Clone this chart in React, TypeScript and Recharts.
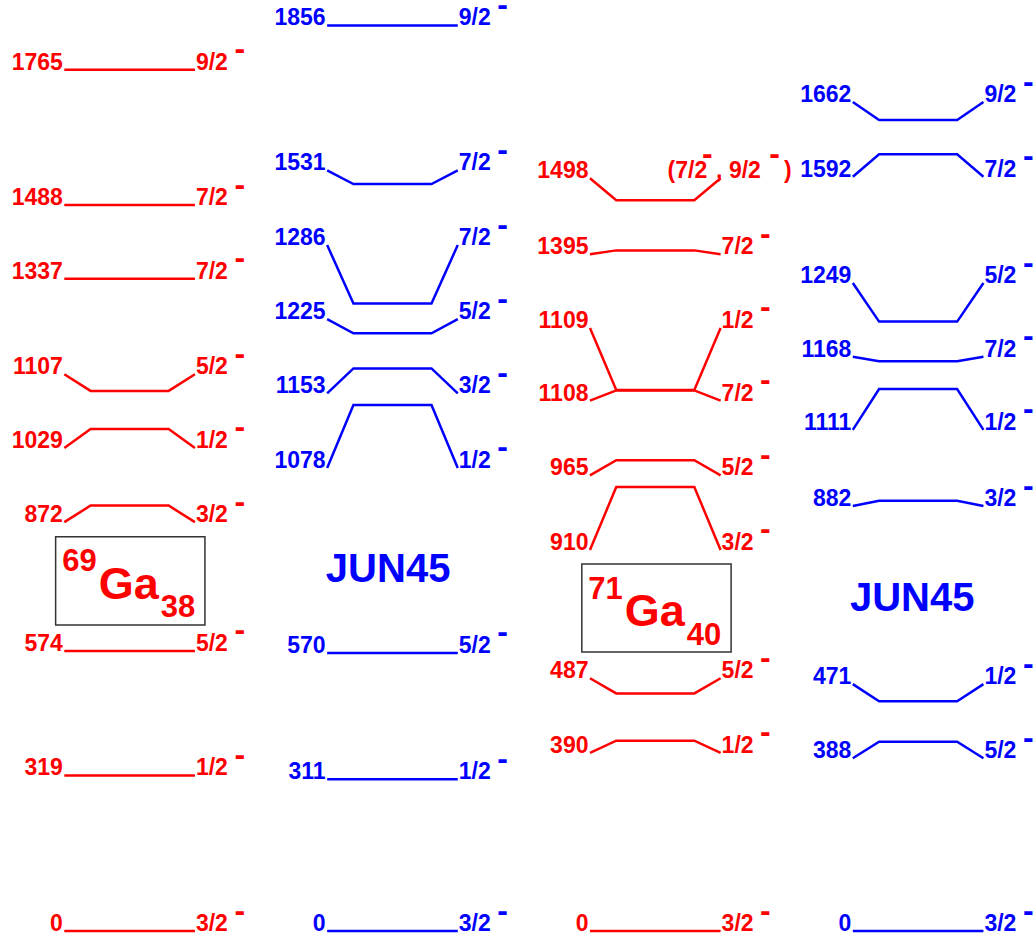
import { LineChart, Line, XAxis, YAxis, ReferenceArea, ReferenceDot } from "recharts";

const FONT = '"Liberation Sans", Arial, Helvetica, sans-serif';
const RED = "#ff0000";
const BLUE = "#0000ff";

// 69Ga, experiment (keV). labelEnergies = where the level's end ticks sit so the labels don't collide
const ga69Energies = [0, 319, 574, 872, 1029, 1107, 1337, 1488, 1765];
const ga69LabelEnergies = [0, 319, 574, 838, 990, 1141, 1337, 1488, 1765];
const ga69Spins = ["3/2", "1/2", "5/2", "3/2", "1/2", "5/2", "7/2", "7/2", "9/2"];

// 69Ga, JUN45 shell model
const jun69Energies = [0, 311, 570, 1078, 1153, 1225, 1286, 1531, 1856];
const jun69LabelEnergies = [0, 311, 570, 949, 1102, 1254, 1406, 1559, 1856];
const jun69Spins = ["3/2", "1/2", "5/2", "1/2", "3/2", "5/2", "7/2", "7/2", "9/2"];

// 71Ga, experiment
const ga71Energies = [0, 390, 487, 910, 965, 1108, 1109, 1395, 1498];
const ga71LabelEnergies = [0, 365, 518, 781, 934, 1087, 1236, 1387, 1543];
const ga71Spins = ["3/2", "1/2", "5/2", "3/2", "5/2", "7/2", "1/2", "7/2", "(7/2,9/2)"];

// 71Ga, JUN45 shell model
const jun71Energies = [0, 388, 471, 882, 1111, 1168, 1249, 1592, 1662];
const jun71LabelEnergies = [0, 354, 506, 871, 1027, 1177, 1328, 1546, 1699];
const jun71Spins = ["3/2", "5/2", "1/2", "3/2", "1/2", "7/2", "5/2", "7/2", "9/2"];

const columns = [
  { energies: ga69Energies, labelEnergies: ga69LabelEnergies, spins: ga69Spins, color: RED },
  { energies: jun69Energies, labelEnergies: jun69LabelEnergies, spins: jun69Spins, color: BLUE },
  { energies: ga71Energies, labelEnergies: ga71LabelEnergies, spins: ga71Spins, color: RED },
  { energies: jun71Energies, labelEnergies: jun71LabelEnergies, spins: jun71Spins, color: BLUE },
];

// x offsets of a level inside its column: left end, kink, kink, right end
const LEVEL_SHAPE = [0, 0.1, 0.397, 0.497];

const buildLevel = (col: number, energy: number, labelEnergy: number) =>
  LEVEL_SHAPE.map((f, i) => ({
    x: col + f,
    e: i === 0 || i === LEVEL_SHAPE.length - 1 ? labelEnergy : energy,
  }));

const textStyle = { fontFamily: FONT, fontWeight: 700 as const };

const SpinLabel = ({ x, y, spin, color }: { x: number; y: number; spin: string; color: string }) => {
  if (spin.startsWith("(")) {
    // "(7/2-, 9/2-)" with both parities raised
    const [a, b] = spin.slice(1, -1).split(",");
    return (
      <text fontSize={23} fill={color} style={textStyle}>
        <tspan x={x - 53} y={y}>({a}</tspan>
        <tspan x={x - 18.5} y={y - 14} fontSize={32}>-</tspan>
        <tspan x={x - 4.7} y={y}>,</tspan>
        <tspan x={x + 8.3} y={y}>{b}</tspan>
        <tspan x={x + 48.6} y={y - 14} fontSize={32}>-</tspan>
        <tspan x={x + 63.5} y={y}>)</tspan>
      </text>
    );
  }
  return (
    <text fontSize={23} fill={color} style={textStyle}>
      <tspan x={x + 1} y={y}>{spin}</tspan>
      <tspan x={x + 39.5} y={y - 10.5} fontSize={32}>-</tspan>
    </text>
  );
};

const levelDot = (energy: number, spin: string, color: string) => (props: any) => {
  const { cx, cy, index } = props;
  const key = `${energy}-${spin}-${index}`;
  if (index === 0) {
    return (
      <text key={key} x={cx - 1.5} y={cy} textAnchor="end" fontSize={23} fill={color} style={textStyle}>
        {energy}
      </text>
    );
  }
  if (index === LEVEL_SHAPE.length - 1) {
    return <SpinLabel key={key} x={cx} y={cy} spin={spin} color={color} />;
  }
  return <g key={key} />;
};

const NucleusLabel = (props: any) => {
  const { viewBox, mass, neutrons } = props;
  const { x, y } = viewBox;
  return (
    <g>
      <text x={x + 6.5} y={y + 34.5} fontSize={31} fill={RED} style={textStyle}>
        {mass}
      </text>
      <text x={x + 43} y={y + 62.3} fontSize={45} fill={RED} style={textStyle}>
        Ga
      </text>
      <text x={x + 105} y={y + 80.5} fontSize={31} fill={RED} style={textStyle}>
        {neutrons}
      </text>
    </g>
  );
};

const ModelLabel = (props: any) => {
  const { viewBox } = props;
  return (
    <text x={viewBox.x} y={viewBox.y} textAnchor="middle" fontSize={40} fill={BLUE} style={textStyle}>
      JUN45
    </text>
  );
};

export default function App() {
  return (
    <div style={{ position: "absolute", left: 0, top: 0, background: "#fff" }}>
      <LineChart width={1036} height={938} margin={{ top: 1.55, right: 0, bottom: 2.1, left: 0 }}>
        <XAxis type="number" dataKey="x" domain={[-0.2447, 3.697]} allowDataOverflow hide />
        <YAxis type="number" dataKey="e" domain={[-10, 1905]} allowDataOverflow hide />
        {columns.map((c, col) =>
          c.energies.map((energy, i) => (
            <Line
              key={`${col}-${i}`}
              data={buildLevel(col, energy, c.labelEnergies[i])}
              dataKey="e"
              type="linear"
              stroke={c.color}
              strokeWidth={2.5}
              dot={levelDot(energy, c.spins[i], c.color)}
              activeDot={false}
              isAnimationActive={false}
            />
          ))
        )}
        <ReferenceArea
          x1={-0.033}
          x2={0.535}
          y1={627}
          y2={808}
          fill="none"
          stroke="#333"
          strokeWidth={1.5}
          ifOverflow="visible"
          label={<NucleusLabel mass="69" neutrons="38" />}
        />
        <ReferenceArea
          x1={1.969}
          x2={2.537}
          y1={572}
          y2={752}
          fill="none"
          stroke="#333"
          strokeWidth={1.5}
          ifOverflow="visible"
          label={<NucleusLabel mass="71" neutrons="40" />}
        />
        <ReferenceDot x={1.232} y={715} r={0} fill="none" stroke="none" ifOverflow="visible" label={<ModelLabel />} />
        <ReferenceDot x={3.226} y={656} r={0} fill="none" stroke="none" ifOverflow="visible" label={<ModelLabel />} />
      </LineChart>
    </div>
  );
}
